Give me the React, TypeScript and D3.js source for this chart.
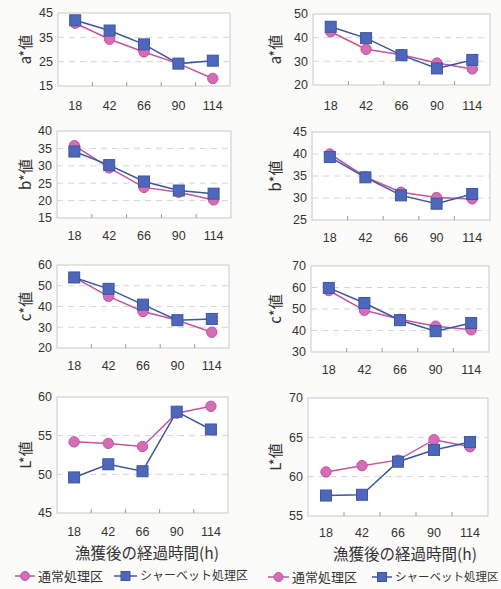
import React from 'react'
import * as d3 from 'd3'

const hours = ['18', '42', '66', '90', '114']

const aLeftNormal = [40.8, 34.2, 29.0, 24.2, 18.1]
const aLeftSherbet = [42.0, 37.8, 32.1, 24.2, 25.4]
const aRightNormal = [42.5, 35.1, 32.8, 29.3, 26.8]
const aRightSherbet = [44.6, 39.8, 32.6, 27.0, 30.6]
const bLeftNormal = [35.8, 29.4, 23.8, 22.4, 20.2]
const bLeftSherbet = [34.1, 30.2, 25.5, 22.9, 22.0]
const bRightNormal = [40.0, 34.8, 31.3, 30.1, 29.8]
const bRightSherbet = [39.3, 34.7, 30.6, 28.7, 30.9]
const cLeftNormal = [54.0, 44.9, 37.6, 33.4, 27.6]
const cLeftSherbet = [54.0, 48.5, 40.9, 33.4, 34.0]
const cRightNormal = [58.6, 49.4, 45.2, 42.0, 40.3]
const cRightSherbet = [59.8, 52.8, 44.8, 39.7, 43.5]
const lLeftNormal = [54.2, 54.0, 53.6, 57.9, 58.8]
const lLeftSherbet = [49.6, 51.3, 50.4, 58.1, 55.8]
const lRightNormal = [60.6, 61.4, 62.1, 64.7, 63.8]
const lRightSherbet = [57.6, 57.7, 61.9, 63.4, 64.4]

const seriesNames = ['通常処理区', 'シャーベット処理区']
const xTitle = '漁獲後の経過時間(h)'

const PINK = '#c4549e'
const PINK_FILL = '#d36db5'
const BLUE = '#3b56a2'
const BLUE_FILL = '#4f67bb'

const JP = '"Noto Sans CJK JP", "Noto Sans", sans-serif'
const NUM = '"Liberation Sans", Arial, sans-serif'

// panel boxes (x0, x1, y0, y1)
const panels = [
  { title: 'a*値', box: [58, 230, 13, 86], domain: [15, 45], step: 10, normal: aLeftNormal, sherbet: aLeftSherbet, ly: 106 },
  { title: 'a*値', box: [313, 490, 14, 85], domain: [20, 50], step: 10, normal: aRightNormal, sherbet: aRightSherbet, ly: 106 },
  { title: 'b*値', box: [57, 231, 131, 218], domain: [15, 40], step: 5, normal: bLeftNormal, sherbet: bLeftSherbet, ly: 236 },
  { title: 'b*値', box: [312, 490, 132, 220], domain: [25, 45], step: 5, normal: bRightNormal, sherbet: bRightSherbet, ly: 238 },
  { title: 'c*値', box: [57, 229, 265, 348], domain: [20, 60], step: 10, normal: cLeftNormal, sherbet: cLeftSherbet, ly: 366 },
  { title: 'c*値', box: [311, 489, 266, 352], domain: [30, 70], step: 10, normal: cRightNormal, sherbet: cRightSherbet, ly: 370 },
  { title: 'L*値', box: [57, 228, 397, 513], domain: [45, 60], step: 5, normal: lLeftNormal, sherbet: lLeftSherbet, ly: 532 },
  { title: 'L*値', box: [308, 488, 398, 516], domain: [55, 70], step: 5, normal: lRightNormal, sherbet: lRightSherbet, ly: 533 },
]

const Panel = ({ p }: { p: any }) => {
  const [x0, x1, y0, y1] = p.box
  const x = d3.scaleBand().domain(hours).range([x0, x1])
  const y = d3.scaleLinear().domain(p.domain).range([y1, y0])
  const ticks = d3.range(p.domain[0], p.domain[1] + 0.001, p.step)
  const cx = (i: number) => x(hours[i])! + x.bandwidth() / 2
  const line = d3.line<number>().x((d, i) => cx(i)).y(d => y(d))
  const left = x0 < 250
  return (
    <g>
      <rect x={x0} y={y0} width={x1 - x0} height={y1 - y0} fill="#fff" stroke="#c9c9c9" strokeWidth={1} />
      {ticks.slice(1, -1).map(t => (
        <line key={t} x1={x0} x2={x1} y1={y(t)} y2={y(t)} stroke="#d4d4d4" strokeDasharray="6,5" />
      ))}
      {hours.slice(1).map(h => (
        <line key={h} x1={x(h)} x2={x(h)} y1={y1} y2={y1 - 4} stroke="#9a9a9a" />
      ))}
      {ticks.map(t => (
        <text key={t} x={x0 - 5} y={y(t)} dy="0.35em" textAnchor="end" fontFamily={NUM} fontSize={12.5} fill="#333">{t}</text>
      ))}
      {hours.map((h, i) => (
        <text key={h} x={cx(i)} y={p.ly} dy="0.35em" textAnchor="middle" fontFamily={NUM} fontSize={12.5} fill="#333">{h}</text>
      ))}
      <text transform={`translate(${left ? 26 : 276},${(y0 + y1) / 2}) rotate(-90)`} textAnchor="middle" dy="0.35em"
        fontFamily={JP} fontSize={15} fill="#333">{p.title}</text>
      <path d={line(p.normal)!} fill="none" stroke={PINK} strokeWidth={1.5} />
      {p.normal.map((v: number, i: number) => (
        <circle key={i} cx={cx(i)} cy={y(v)} r={5.2} fill={PINK_FILL} stroke={PINK} strokeWidth={1} />
      ))}
      <path d={line(p.sherbet)!} fill="none" stroke={BLUE} strokeWidth={1.5} />
      {p.sherbet.map((v: number, i: number) => (
        <rect key={i} x={cx(i) - 5.5} y={y(v) - 5.5} width={11} height={11} fill={BLUE_FILL} stroke={BLUE} strokeWidth={1} />
      ))}
    </g>
  )
}

// legend positions: [line1 start, text1 start, line2 start, text2 start]
const Legend = ({ pos, y, size2 }: { pos: number[], y: number, size2: number }) => {
  const [l1, t1, l2, t2] = pos
  return (
    <g>
      <line x1={l1} x2={t1 - 3} y1={y} y2={y} stroke={PINK} strokeWidth={1.5} />
      <circle cx={(l1 + t1 - 3) / 2} cy={y} r={4.5} fill={PINK_FILL} stroke={PINK} />
      <text x={t1} y={y} dy="0.35em" fontFamily={JP} fontSize={13} fill="#333">{seriesNames[0]}</text>
      <line x1={l2} x2={t2 - 3} y1={y} y2={y} stroke={BLUE} strokeWidth={1.5} />
      <rect x={(l2 + t2 - 3) / 2 - 4.5} y={y - 4.5} width={9} height={9} fill={BLUE_FILL} stroke={BLUE} />
      <text x={t2} y={y} dy="0.35em" fontFamily={JP} fontSize={size2} fill="#333">{seriesNames[1]}</text>
    </g>
  )
}

export default function App() {
  return (
    <svg width={501} height={589} style={{ position: 'absolute', left: 0, top: 0, background: '#fbfbfa' }}>
      {panels.map((p, i) => <Panel key={i} p={p} />)}
      <text x={147} y={554} dy="0.35em" textAnchor="middle" fontFamily={JP} fontSize={15.5} fill="#333">{xTitle}</text>
      <text x={405} y={555} dy="0.35em" textAnchor="middle" fontFamily={JP} fontSize={15.5} fill="#333">{xTitle}</text>
      <Legend pos={[15, 38, 114, 140]} y={576} size2={12} />
      <Legend pos={[268, 292, 372, 395]} y={577} size2={11.5} />
    </svg>
  )
}
